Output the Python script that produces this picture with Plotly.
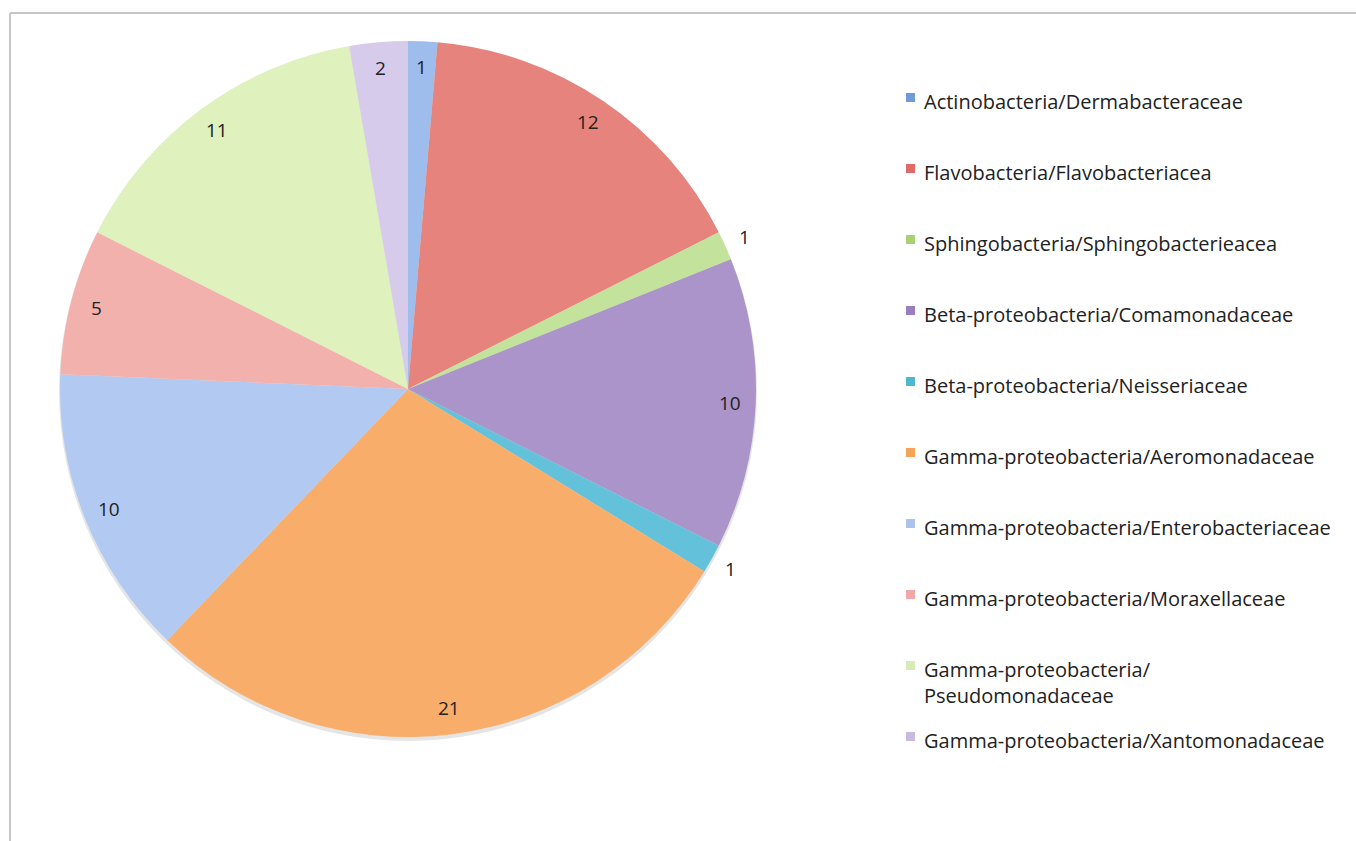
import math
import plotly.graph_objects as go

# Isolate counts per class/family
families = [
    "Actinobacteria/Dermabacteraceae",
    "Flavobacteria/Flavobacteriacea",
    "Sphingobacteria/Sphingobacterieacea",
    "Beta-proteobacteria/Comamonadaceae",
    "Beta-proteobacteria/Neisseriaceae",
    "Gamma-proteobacteria/Aeromonadaceae",
    "Gamma-proteobacteria/Enterobacteriaceae",
    "Gamma-proteobacteria/Moraxellaceae",
    "Gamma-proteobacteria/<br>Pseudomonadaceae",
    "Gamma-proteobacteria/Xantomonadaceae",
]
counts = [1, 12, 1, 10, 1, 21, 10, 5, 11, 2]
label_side = ["inside", "inside", "outside", "inside", "outside",
              "inside", "inside", "inside", "inside", "inside"]

colors = [
    "#9fbdec", "#e6837d", "#c3e29c", "#ab94ca", "#63c1d9",
    "#f9ad6a", "#b2caf1", "#f3b1ae", "#dff1bd", "#d7cbec",
]
legend_colors = [
    "#6f9bd9", "#e06a66", "#a9d072", "#9a7fbf", "#4fb7d1",
    "#f7a259", "#a9c3ed", "#f0a9a7", "#d6ecb4", "#c9badf",
]

W, H = 1356, 841
cx, cy, R = 408, 389, 348
FONT = "Open Sans"
TEXT = "#222222"

fig = go.Figure()

# soft drop shadow under the pie
fig.add_shape(type="circle", xref="paper", yref="paper",
              x0=(cx - R - 1) / W, x1=(cx + R + 1) / W,
              y0=1 - (cy + R + 4) / H, y1=1 - (cy - R + 1) / H,
              fillcolor="rgba(0,0,0,0.10)", line=dict(width=0), layer="below")

fig.add_trace(go.Pie(
    labels=[f.replace("<br>", "") for f in families],
    values=counts,
    sort=False,
    direction="clockwise",
    rotation=0,
    textinfo="none",
    marker=dict(colors=colors, line=dict(width=0)),
    domain=dict(x=[(cx - R) / W, (cx + R) / W],
                y=[1 - (cy + R) / H, 1 - (cy - R) / H]),
    showlegend=False,
))

# value labels placed along each slice's bisector
total = sum(counts)
cum = 0
annotations = []
for v, side in zip(counts, label_side):
    mid = (cum + v / 2) / total * 2 * math.pi
    cum += v
    r = R * (0.925 if side == "inside" else 1.06)
    px = cx + r * math.sin(mid)
    py = cy - r * math.cos(mid)
    annotations.append(dict(
        x=px / W, y=1 - py / H, xref="paper", yref="paper",
        text=str(v), showarrow=False, xanchor="center", yanchor="middle",
        font=dict(family=FONT, size=19, color=TEXT)))

# legend drawn as swatches + text
leg_x_swatch = 906
leg_x_text = 922
leg_y0 = 100
leg_step = 71
shapes = []
for i, (name, col) in enumerate(zip(families, legend_colors)):
    yc = leg_y0 + i * leg_step
    shapes.append(dict(type="rect", xref="paper", yref="paper",
                       x0=leg_x_swatch / W, x1=(leg_x_swatch + 9) / W,
                       y0=1 - (yc + 2) / H, y1=1 - (yc - 7) / H,
                       fillcolor=col, line=dict(width=0)))
    annotations.append(dict(
        x=leg_x_text / W, y=1 - (yc - 14) / H, xref="paper", yref="paper",
        text=name, showarrow=False, xanchor="left", yanchor="top",
        align="left", valign="top",
        font=dict(family=FONT, size=20, color=TEXT)))

# chart-area frame (top and left edges)
frame = "#c6c6c6"
shapes.append(dict(type="line", xref="paper", yref="paper",
                   x0=10 / W, x1=1.0, y0=1 - 13 / H, y1=1 - 13 / H,
                   line=dict(color=frame, width=2)))
shapes.append(dict(type="line", xref="paper", yref="paper",
                   x0=10 / W, x1=10 / W, y0=1 - 13 / H, y1=0,
                   line=dict(color=frame, width=2)))

fig.update_layout(
    width=W, height=H,
    margin=dict(l=0, r=0, t=0, b=0),
    paper_bgcolor="white",
    plot_bgcolor="white",
    annotations=annotations,
    shapes=fig.layout.shapes + tuple(shapes),
)

fig.write_html("out.html")
